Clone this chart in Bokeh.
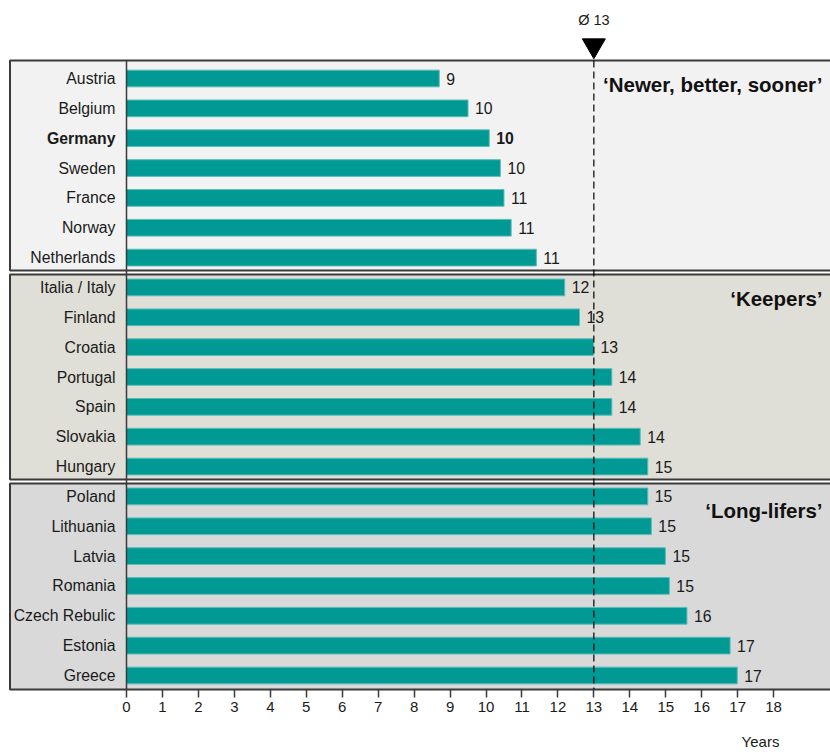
from bokeh.plotting import figure
from bokeh.models import Range1d, FixedTicker, ColumnDataSource
from bokeh.embed import file_html
from bokeh.resources import INLINE
from bokeh.core.properties import value

# ---------------- data ----------------
countries = ["Austria", "Belgium", "Germany", "Sweden", "France", "Norway", "Netherlands",
             "Italia / Italy", "Finland", "Croatia", "Portugal", "Spain", "Slovakia", "Hungary",
             "Poland", "Lithuania", "Latvia", "Romania", "Czech Rebulic", "Estonia", "Greece"]
ages = [8.70, 9.50, 10.09, 10.40, 10.50, 10.70, 11.40,
        12.19, 12.60, 12.99, 13.50, 13.50, 14.29, 14.50,
        14.50, 14.60, 14.99, 15.10, 15.59, 16.79, 16.99]
age_labels = ["9", "10", "10", "10", "11", "11", "11",
              "12", "13", "13", "14", "14", "14", "15",
              "15", "15", "15", "15", "16", "17", "17"]
highlight = "Germany"
group_names = ["\u2018Newer, better, sooner\u2019", "\u2018Keepers\u2019", "\u2018Long-lifers\u2019"]
group_sizes = [7, 7, 7]
group_colors = ["#f2f2f2", "#e0dfd7", "#d9d9d9"]
average = 13
avg_label = "\u00d8 13"
x_ticks = list(range(0, 19))
x_title = "Years"

# ---------------- styling ----------------
FONT = "Liberation Sans"
BAR = "#009994"
BAR_EDGE = "#5bbdb9"
BORDER = "#3a3a3a"
TXT = "#1a1a1a"

W, H = 830, 752
px_per_unit = 35.95
row_px = 29.85
x0_px = 126
row0_px = 78

p = figure(width=W, height=H, output_backend="svg", toolbar_location=None,
           x_range=Range1d(-x0_px / px_per_unit, (W - x0_px) / px_per_unit),
           y_range=Range1d((H - row0_px) / row_px, -row0_px / row_px),
           min_border_left=0, min_border_right=0, min_border_top=0, min_border_bottom=0,
           outline_line_color=None, background_fill_color="white", border_fill_color="white")
p.grid.visible = False
p.yaxis.visible = False

n = len(countries)
ys = list(range(n))

# group panels
left_edge = (9.5 - x0_px) / px_per_unit
label_offsets = [0.2, 0.37, 0.47]
tops, bottoms, lefts, rights, label_y = [], [], [], [], []
start = 0
for gi, size in enumerate(group_sizes):
    first, last = start, start + size - 1
    tops.append(first - (0.6 if gi == 0 else 0.43))
    bottoms.append(last + (0.47 if gi == len(group_sizes) - 1 else 0.43))
    lefts.append(left_edge)
    rights.append(25)
    label_y.append(first + label_offsets[gi])
    start += size
p.quad(left=lefts, right=rights, top=tops, bottom=bottoms,
       fill_color=group_colors, line_color=BORDER, line_width=2)

# group names
right_text = (822 - x0_px) / px_per_unit
p.text(x=[right_text] * len(group_names), y=label_y, text=group_names,
       text_font=value(FONT), text_font_size="20.5px", text_font_style="bold",
       text_align="right", text_baseline="middle", text_color="#111111")

# bars
src = ColumnDataSource(dict(
    y=ys, age=ages, country=countries, lab=age_labels,
    lab_x=[a + 7 / px_per_unit for a in ages],
    style=["bold" if c == highlight else "normal" for c in countries],
))
p.hbar(y="y", left=0, right="age", height=0.56, source=src,
       fill_color=BAR, line_color=BAR_EDGE, line_width=1)

# country names
p.text(x=-11 / px_per_unit, y="y", text="country", source=src,
       text_font=value(FONT), text_font_size="15.8px", text_font_style="style",
       text_align="right", text_baseline="middle", text_color=TXT)

# value labels
p.text(x="lab_x", y="y", text="lab", source=src,
       text_font=value(FONT), text_font_size="15.8px", text_font_style="style",
       text_align="left", text_baseline="middle", text_color=TXT)

# vertical axis line at 0
p.segment(x0=[0], x1=[0], y0=[tops[0]], y1=[bottoms[-1]], line_color=BORDER, line_width=1.5)

# average dashed line + marker
p.segment(x0=[average], x1=[average], y0=[tops[0]], y1=[bottoms[-1]],
          line_color="black", line_width=1.2, line_dash="7 4")
p.scatter(x=[average], y=[(45 - row0_px) / row_px], marker="inverted_triangle",
          size=23, fill_color="black", line_color="black")
p.text(x=[average], y=[(19 - row0_px) / row_px], text=[avg_label],
       text_font=value(FONT), text_font_size="14.5px", text_align="center",
       text_baseline="middle", text_color=TXT)

# x axis, pinned to the bottom edge of the last panel
ax = p.xaxis[0]
ax.fixed_location = bottoms[-1]
ax.ticker = FixedTicker(ticks=x_ticks)
ax.axis_line_color = None
ax.major_tick_line_color = BORDER
ax.major_tick_line_width = 1.5
ax.major_tick_out = 8
ax.major_tick_in = 0
ax.minor_tick_line_color = None
ax.major_label_standoff = 4
ax.major_label_text_font = FONT
ax.major_label_text_font_size = "15px"
ax.major_label_text_color = TXT

# axis title
p.text(x=[(760 - x0_px) / px_per_unit], y=[(741 - row0_px) / row_px], text=[x_title],
       text_font=value(FONT), text_font_size="15px", text_align="center",
       text_baseline="middle", text_color=TXT)

open("out.html", "w").write(file_html(p, INLINE))
